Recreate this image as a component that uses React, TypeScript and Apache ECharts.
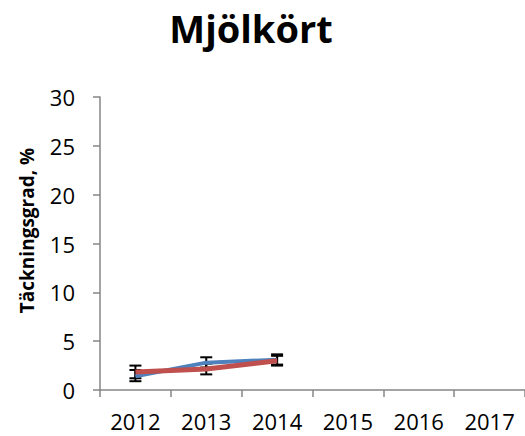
import React, { useEffect, useRef } from "react";
import * as echarts from "echarts";

const years = ["2012", "2013", "2014", "2015", "2016", "2017"];
const blueValues = [1.4, 2.8, 3.1];
const blueLow = [0.9, 2.3, 2.6];
const blueHigh = [2.05, 3.35, 3.65];
const redValues = [1.85, 2.15, 3.0];
const redLow = [1.2, 1.6, 2.5];
const redHigh = [2.5, 2.7, 3.5];
const yTicks = [0, 5, 10, 15, 20, 25, 30];

const errData = (low: number[], high: number[]) => low.map((l, i) => [i, l, high[i]]);

const errorSeries = (low: number[], high: number[]) => ({
  type: "custom",
  z: 1,
  silent: true,
  data: errData(low, high),
  renderItem: (params: any, api: any) => {
    const x = api.value(0);
    const lo = api.coord([x, api.value(1)]);
    const hi = api.coord([x, api.value(2)]);
    const hw = 6;
    const st = { stroke: "#000", lineWidth: 2 };
    return {
      type: "group",
      children: [
        { type: "line", shape: { x1: lo[0], y1: lo[1], x2: hi[0], y2: hi[1] }, style: st },
        { type: "line", shape: { x1: lo[0] - hw, y1: lo[1], x2: lo[0] + hw, y2: lo[1] }, style: st },
        { type: "line", shape: { x1: hi[0] - hw, y1: hi[1], x2: hi[0] + hw, y2: hi[1] }, style: st },
      ],
    };
  },
});

const FONT = "'Open Sans'";

export default function App() {
  const ref = useRef<HTMLDivElement>(null);
  useEffect(() => {
    const chart = echarts.init(ref.current!, null, { renderer: "svg" });
    chart.setOption({
      animation: false,
      backgroundColor: "#fff",
      title: {
        text: "Mjölkört",
        left: 246,
        top: 4,
        textAlign: "center",
        textStyle: { fontFamily: FONT, fontWeight: "bold", fontSize: 38, color: "#000" },
      },
      grid: { left: 100, top: 97, bottom: 46, right: -1 },
      xAxis: {
        type: "category",
        data: years,
        boundaryGap: true,
        axisLine: { lineStyle: { color: "#868686", width: 1.5 } },
        axisTick: { show: true, length: 7, alignWithLabel: false, lineStyle: { color: "#868686", width: 1.5 } },
        axisLabel: { fontFamily: FONT, fontSize: 22, color: "#000", margin: 20 },
        splitLine: { show: false },
      },
      yAxis: {
        type: "value",
        min: yTicks[0],
        max: yTicks[yTicks.length - 1],
        interval: 5,
        name: "Täckningsgrad, %",
        nameLocation: "middle",
        nameGap: 64,
        nameTextStyle: { fontFamily: FONT, fontWeight: "bold", fontSize: 19, color: "#000", padding: [0, 0, 0, 26] },
        axisLine: { show: true, lineStyle: { color: "#868686", width: 1.5 } },
        axisTick: { show: true, length: 7, lineStyle: { color: "#868686", width: 1.5 } },
        axisLabel: { fontFamily: FONT, fontSize: 22, color: "#000", margin: 25 },
        splitLine: { show: false },
      },
      series: [
        errorSeries(blueLow, blueHigh),
        errorSeries(redLow, redHigh),
        {
          type: "line",
          z: 2,
          data: blueValues,
          symbol: "none",
          lineStyle: { color: "#4F81BD", width: 4 },
          itemStyle: { color: "#4F81BD" },
        },
        {
          type: "line",
          z: 3,
          data: redValues,
          symbol: "none",
          lineStyle: { color: "#C0504D", width: 5 },
          itemStyle: { color: "#C0504D" },
        },
      ],
    });
    return () => chart.dispose();
  }, []);
  return <div ref={ref} style={{ width: 525, height: 436, position: "absolute", left: 0, top: 0 }} />;
}
